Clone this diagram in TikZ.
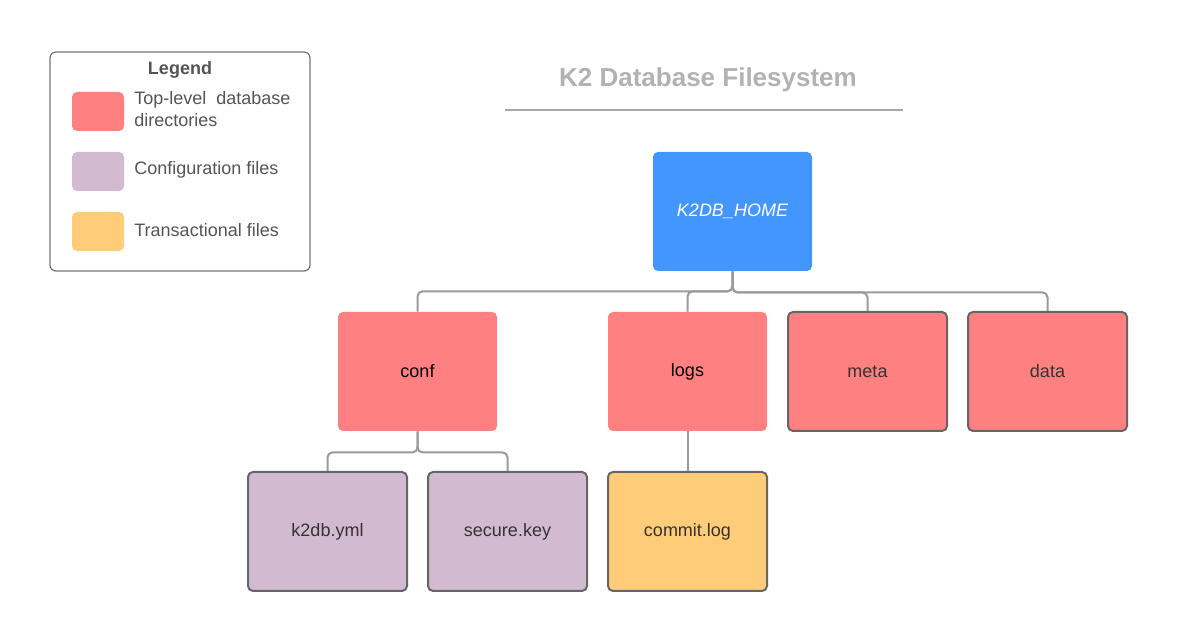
\documentclass[tikz,border=0pt]{standalone}
\usepackage{fontspec}
\setmainfont{Liberation Sans}
\usetikzlibrary{positioning}
\definecolor{dirred}{HTML}{FF8080}
\definecolor{confpurple}{HTML}{D2BBD1}
\definecolor{txnyellow}{HTML}{FFCC7A}
\definecolor{homeblue}{HTML}{4496FF}
\definecolor{edgegray}{HTML}{666666}
\definecolor{linkgray}{HTML}{9A9A9A}
\begin{document}
\begin{tikzpicture}[x=.5pt, y=-.5pt, font=\fontsize{9}{11}\selectfont,
    box/.style={rectangle, rounded corners=2.5pt, inner sep=0pt, minimum width=79.5pt, minimum height=59.5pt, text=black!80},
    framed/.style={box, draw=edgegray, line width=1pt},
    swatch/.style={rectangle, rounded corners=2.5pt, inner sep=0pt, minimum width=26pt, minimum height=19.5pt},
    legtext/.style={anchor=west, text=black!67, align=left, inner sep=0pt},
    link/.style={draw=linkgray, line width=1pt, rounded corners=2.5pt}]
\useasboundingbox (0,0) rectangle (1180,640);
% legend
\draw[edgegray!90, line width=.6pt, rounded corners=3pt] (50,52) rectangle (310,271);
\node (legend) at (180,70) {\textcolor{black!67}{\bfseries Legend}};
\node[swatch, fill=dirred] (swred) at (98,111.5) {};
\node[swatch, fill=confpurple] (swpurple) at (98,171.5) {};
\node[swatch, fill=txnyellow] (swyellow) at (98,231.5) {};
\node[legtext] (lred) at (134,109) {Top-level\ \ database\\directories};
\node[legtext] (lpurple) at (134,170) {Configuration files};
\node[legtext] (lyellow) at (134,230) {Transactional files};
% title
\node (title) at (708,80) {\textcolor{black!30}{\fontsize{13}{15}\selectfont\bfseries K2 Database Filesystem}};
\draw[black!35, line width=1pt] (505,110) -- (903,110);
% tree
\node[box, fill=homeblue, text=white] (home) at (732.5,211.5) {\itshape K2DB\_HOME};
\node[box, fill=dirred, text=black] (conf) at (417.5,371.5) {conf};
\node[box, fill=dirred, text=black] (logs) at (687.5,371.5) {logs};
\node[framed, fill=dirred] (meta) at (867.5,371.5) {meta};
\node[framed, fill=dirred] (data) at (1047.5,371.5) {data};
\node[framed, fill=confpurple] (yml) at (327.5,531.5) {k2db.yml};
\node[framed, fill=confpurple] (key) at (507.5,531.5) {secure.key};
\node[framed, fill=txnyellow] (commit) at (687.5,531.5) {commit.log};
\draw[link] (home.south) -- ++(0,20) -| (conf.north);
\draw[link] (home.south) -- ++(0,20) -| (logs.north);
\draw[link] (home.south) -- ++(0,21) -| (meta.north);
\draw[link] (home.south) -- ++(0,21) -| (data.north);
\draw[link] (conf.south) -- ++(0,21) -| (yml.north);
\draw[link] (conf.south) -- ++(0,21) -| (key.north);
\draw[link] (logs.south) -- (commit.north);
\end{tikzpicture}
\end{document}
